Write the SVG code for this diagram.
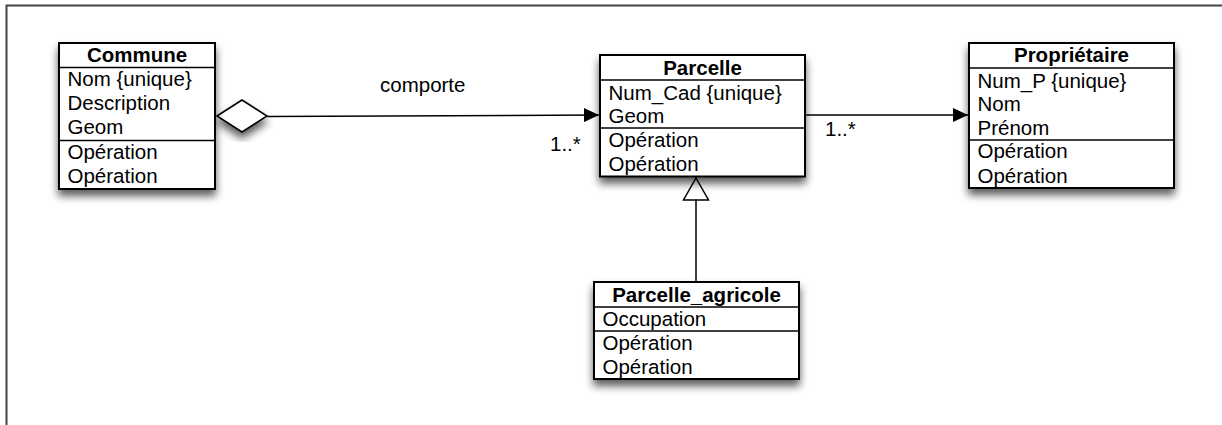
<svg xmlns="http://www.w3.org/2000/svg" width="1222" height="425" viewBox="0 0 1222 425">
  <defs>
    <filter id="shadow" x="-20%" y="-20%" width="140%" height="150%">
      <feGaussianBlur in="SourceAlpha" stdDeviation="4.5"/>
      <feOffset dx="0" dy="6" result="b"/>
      <feComponentTransfer><feFuncA type="linear" slope="0.65"/></feComponentTransfer>
      <feMerge><feMergeNode/><feMergeNode in="SourceGraphic"/></feMerge>
    </filter>
    <marker id="arrow" viewBox="0 0 15 14" refX="15" refY="7" markerWidth="15" markerHeight="14" markerUnits="userSpaceOnUse" orient="auto">
      <path d="M0,0 L15,7 L0,14 Z" fill="#000"/>
    </marker>
  </defs>
  <style>
    .box { fill: #fff; stroke: #000; stroke-width: 2; }
    .sep { stroke: #000; stroke-width: 1.5; }
    text { font-family: "Liberation Sans", Arial, sans-serif; font-size: 20.5px; fill: #000; }
    .hdr { font-weight: bold; text-anchor: middle; }
    .conn { stroke: #000; stroke-width: 1.5; fill: none; }
  </style>

  <!-- frame -->
  <path d="M6.5,425 L6.5,5.5 L1222,5.5" fill="none" stroke="#444" stroke-width="2"/>

  <g id="connectors">
    <line class="conn" x1="267" y1="116.5" x2="599" y2="115" marker-end="url(#arrow)"/>
    <path d="M217,116 L242,100 L267,116 L242,132 Z" fill="#fff" stroke="#000" stroke-width="1.5" filter="url(#shadow)"/>
    <text x="380" y="92">comporte</text>
    <text x="550" y="151">1..*</text>
    <line class="conn" x1="805" y1="115" x2="968" y2="115" marker-end="url(#arrow)"/>
    <text x="825" y="136">1..*</text>
    <line class="conn" x1="696" y1="200" x2="696" y2="282"/>
    <path d="M696,178 L708.5,200 L683.5,200 Z" fill="#fff" stroke="#000" stroke-width="1.5"/>
  </g>

  <g id="commune">
    <rect class="box" x="59" y="43" width="156" height="146" filter="url(#shadow)"/>
    <line class="sep" x1="59" y1="67.5" x2="215" y2="67.5"/>
    <line class="sep" x1="59" y1="140.5" x2="215" y2="140.5"/>
    <text class="hdr" x="137" y="62">Commune</text>
    <text x="67.5" y="86">Nom {unique}</text>
    <text x="67.5" y="110">Description</text>
    <text x="67.5" y="134">Geom</text>
    <text x="67.5" y="159">Opération</text>
    <text x="67.5" y="183">Opération</text>
  </g>

  <g id="parcelle">
    <rect class="box" x="600" y="55" width="205" height="121.5" filter="url(#shadow)"/>
    <line class="sep" x1="600" y1="80" x2="805" y2="80"/>
    <line class="sep" x1="600" y1="128" x2="805" y2="128"/>
    <text class="hdr" x="702.5" y="75">Parcelle</text>
    <text x="608.5" y="100">Num_Cad {unique}</text>
    <text x="608.5" y="123">Geom</text>
    <text x="608.5" y="147">Opération</text>
    <text x="608.5" y="171">Opération</text>
  </g>

  <g id="proprietaire">
    <rect class="box" x="969" y="43" width="205" height="145" filter="url(#shadow)"/>
    <line class="sep" x1="969" y1="68" x2="1174" y2="68"/>
    <line class="sep" x1="969" y1="140" x2="1174" y2="140"/>
    <text class="hdr" x="1071.5" y="62">Propriétaire</text>
    <text x="977.5" y="88">Num_P {unique}</text>
    <text x="977.5" y="111">Nom</text>
    <text x="977.5" y="135">Prénom</text>
    <text x="977.5" y="158">Opération</text>
    <text x="977.5" y="183">Opération</text>
  </g>

  <g id="parcelle_agricole">
    <rect class="box" x="594" y="282" width="205" height="97" filter="url(#shadow)"/>
    <line class="sep" x1="594" y1="307" x2="799" y2="307"/>
    <line class="sep" x1="594" y1="331" x2="799" y2="331"/>
    <text class="hdr" x="696.5" y="302">Parcelle_agricole</text>
    <text x="602.5" y="326">Occupation</text>
    <text x="602.5" y="350">Opération</text>
    <text x="602.5" y="374">Opération</text>
  </g>
</svg>
